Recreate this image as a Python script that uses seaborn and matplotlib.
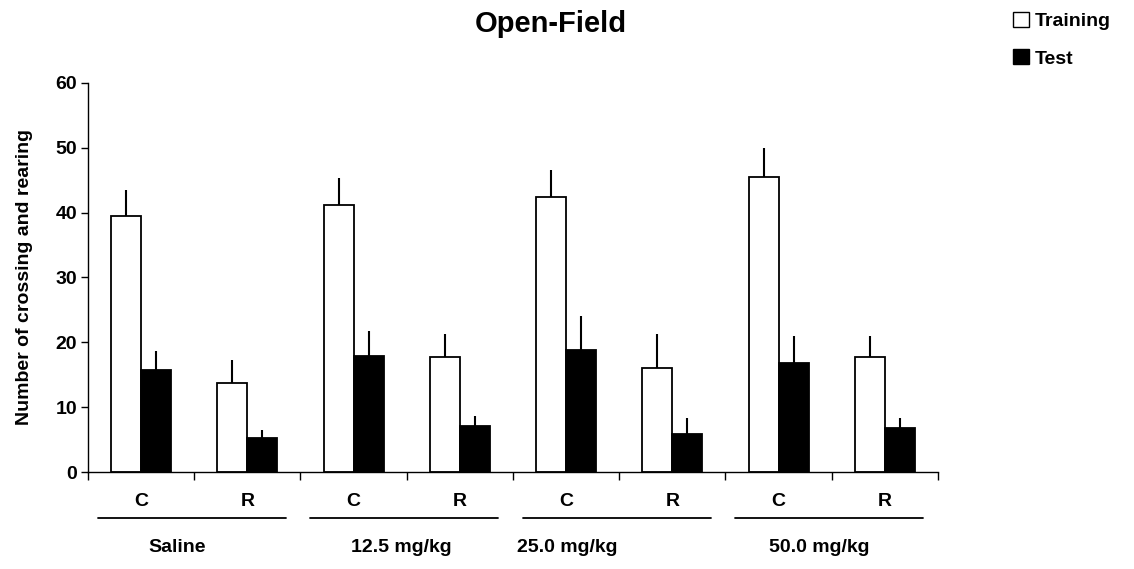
import numpy as np
import pandas as pd
import seaborn as sns
import matplotlib.pyplot as plt
from matplotlib.patches import Patch
import matplotlib.transforms as mtransforms


# values
groups = ["Saline", "12.5 mg/kg", "25.0 mg/kg", "50.0 mg/kg"]
conditions = ["C", "R"]
training_mean = [39.4, 13.8, 41.2, 17.8, 42.4, 16.0, 45.5, 17.8]
training_err = [4.1, 3.5, 4.1, 3.5, 4.2, 5.3, 4.4, 3.2]
test_mean = [15.7, 5.3, 17.9, 7.1, 18.8, 5.9, 16.9, 6.8]
test_err = [2.9, 1.2, 3.8, 1.6, 5.3, 2.4, 4.1, 1.5]
phases = ["Training", "Test"]
group_label_shift = [-0.16, -0.05, -0.49, -0.12]

cats = [g + " " + c for g in groups for c in conditions]
df = pd.DataFrame({
    "cat": cats * 2,
    "phase": ["Training"] * 8 + ["Test"] * 8,
    "value": training_mean + test_mean,
    "err": training_err + test_err,
})

sns.set_style("white", {"text.color": "black", "axes.labelcolor": "black",
                        "xtick.color": "black", "ytick.color": "black"})
plt.rcParams['font.family'] = ['Liberation Sans', 'DejaVu Sans']
plt.rcParams['font.weight'] = 'bold'

fig = plt.figure(figsize=(11.34, 5.69), dpi=100)
ax = fig.add_axes([0.0776, 0.170, 0.7495, 0.6847])

sns.barplot(data=df, x="cat", y="value", hue="phase", order=cats, hue_order=phases,
            palette=["white", "black"], edgecolor="black", linewidth=1.3,
            width=0.565, errorbar=None, legend=False, ax=ax)

# upper error bars only
errs = [training_err, test_err]
for cont, e in zip(ax.containers, errs):
    for bar, ev in zip(cont, e):
        xc = bar.get_x() + bar.get_width() / 2
        top = bar.get_height()
        ax.plot([xc, xc], [top, top + ev], color="black", lw=1.5, solid_capstyle="butt", zorder=3)

ax.set_xlim(-0.5, 7.5)
ax.set_ylim(0, 60)
ax.set_yticks(np.arange(0, 61, 10))
ax.tick_params(axis="y", labelsize=14, length=5, width=1, direction="out", left=True, pad=3,
               colors="black")
for t in ax.get_yticklabels():
    t.set_fontweight("bold")

# major ticks at category boundaries, C/R labels at centres
ax.set_xticks(np.arange(-0.5, 8, 1))
ax.set_xticklabels([])
ax.tick_params(axis="x", length=6, width=1, direction="out", bottom=True, colors="black")
ax.set_xlabel("")
ax.set_ylabel("Number of crossing and rearing", fontsize=14, fontweight="bold", labelpad=16,
              color="black")

for sp in ["top", "right"]:
    ax.spines[sp].set_visible(False)
for sp in ["left", "bottom"]:
    ax.spines[sp].set_color("black")
    ax.spines[sp].set_linewidth(1)

trans = mtransforms.blended_transform_factory(ax.transData, ax.transAxes)
for i, c in enumerate(conditions * len(groups)):
    ax.text(i, -0.076, c, transform=trans, ha="center", va="center",
            fontsize=14, fontweight="bold", color="black")
for gi, g in enumerate(groups):
    cx = 2 * gi + 0.5
    ax.plot([cx - 0.91, cx + 0.86], [-0.117, -0.117], transform=trans, color="black",
            lw=1.3, clip_on=False)
    ax.text(cx + group_label_shift[gi], -0.194, g, transform=trans, ha="center", va="center",
            fontsize=14, fontweight="bold", color="black")

ax.text(0.544, 1.15, "Open-Field", transform=ax.transAxes, ha="center", va="center",
        fontsize=21, fontweight="bold", color="black")

handles = [Patch(facecolor="white", edgecolor="black", lw=1),
           Patch(facecolor="black", edgecolor="black", lw=1)]
fig.legend(handles, phases, loc="upper left", bbox_to_anchor=(0.878, 1.01), frameon=False,
           prop={"size": 14, "weight": "bold"}, handlelength=0.8, handleheight=0.8,
           handletextpad=0.3, labelspacing=1.0, labelcolor="black")

fig.savefig("out.png", dpi=100)
